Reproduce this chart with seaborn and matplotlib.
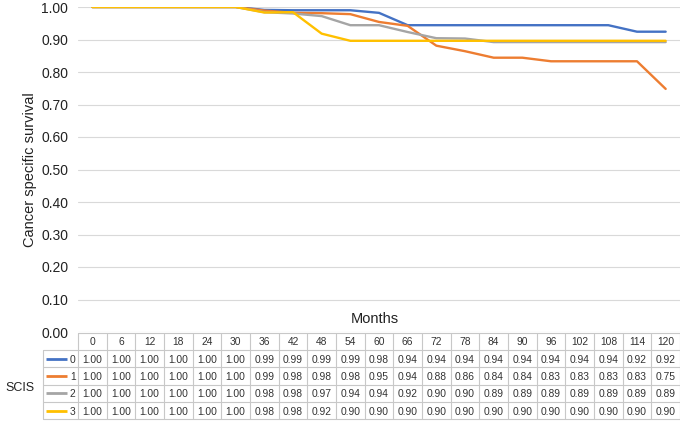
import numpy as np
import pandas as pd
import seaborn as sns
import matplotlib.pyplot as plt

# -----------------------------
# Data (read off the chart / data table)
# -----------------------------
MONTHS = [0, 6, 12, 18, 24, 30, 36, 42, 48, 54, 60, 66, 72, 78, 84, 90, 96, 102, 108, 114, 120]
SERIES = ["0", "1", "2", "3"]

scis_0 = [1.00, 1.00, 1.00, 1.00, 1.00, 1.00, 0.991, 0.990, 0.990, 0.990, 0.982, 0.944, 0.944, 0.944,
          0.944, 0.944, 0.944, 0.944, 0.944, 0.924, 0.924]
scis_1 = [1.00, 1.00, 1.00, 1.00, 1.00, 1.00, 0.989, 0.982, 0.981, 0.978, 0.954, 0.942, 0.881, 0.864,
          0.844, 0.844, 0.833, 0.833, 0.833, 0.833, 0.748]
scis_2 = [1.00, 1.00, 1.00, 1.00, 1.00, 1.00, 0.984, 0.980, 0.972, 0.944, 0.944, 0.923, 0.904, 0.903,
          0.892, 0.892, 0.892, 0.892, 0.892, 0.892, 0.892]
scis_3 = [1.00, 1.00, 1.00, 1.00, 1.00, 1.00, 0.983, 0.984, 0.918, 0.896, 0.896, 0.896, 0.896, 0.896,
          0.896, 0.896, 0.896, 0.896, 0.896, 0.896, 0.896]

VALUES = [scis_0, scis_1, scis_2, scis_3]
COLORS = ["#4472C4", "#ED7D31", "#A5A5A5", "#FFC000"]

# -----------------------------
# Style
# -----------------------------
sns.set_theme(style="white")
plt.rcParams["font.family"] = ["Liberation Sans", "DejaVu Sans"]

W, H = 680, 424
fig = plt.figure(figsize=(W / 100, H / 100), dpi=100)

# long-form frame for seaborn
pos = np.arange(len(MONTHS))
df = pd.DataFrame({
    "pos": np.tile(pos, len(SERIES)),
    "month": np.tile(MONTHS, len(SERIES)),
    "scis": np.repeat(SERIES, len(MONTHS)),
    "survival": np.concatenate(VALUES),
})

ax = fig.add_axes([78 / W, (H - 332) / H, 602 / W, 325 / H])
sns.lineplot(data=df, x="pos", y="survival", hue="scis", hue_order=SERIES,
             palette=COLORS, linewidth=1.7, legend=False, sort=False, ax=ax)
for ln in ax.lines:
    ln.set_solid_joinstyle("round")

ax.set_xlim(-0.5, len(MONTHS) - 0.5)
ax.set_ylim(0, 1.0)
ax.set_yticks(np.arange(0, 1.01, 0.1))
ax.set_yticklabels([f"{v:.2f}" for v in np.arange(0, 1.01, 0.1)], fontsize=10, color="#222222")
ax.set_xticks([])
ax.set_xlabel("")
ax.set_ylabel("Cancer specific survival", fontsize=10.5, color="#222222", labelpad=3)
ax.grid(axis="y", color="#d9d9d9", linewidth=0.8)
ax.set_axisbelow(True)
ax.tick_params(axis="y", length=0, pad=7)
for sp in ax.spines.values():
    sp.set_visible(False)

fig.text(375 / W, 1 - 319 / H, "Months", ha="center", va="center", fontsize=10.5, color="#222222")
fig.text(5 / W, 1 - 388 / H, "SCIS", ha="left", va="center", fontsize=9, color="#222222")

# -----------------------------
# Data table under the chart
# -----------------------------
tax = fig.add_axes([78 / W, (H - 419.3) / H, 602 / W, 86.6 / H])
n = len(MONTHS)
tax.set_xlim(-0.5, n - 0.5)
tax.set_ylim(len(SERIES) + 1, 0)
tax.axis("off")

border = "#c8c8c8"
leg_left = -1.73
right = n - 0.5
kw = dict(color=border, linewidth=0.8, clip_on=False)

# horizontal borders
tax.plot([-0.5, right], [0, 0], **kw)
for r in range(1, len(SERIES) + 2):
    tax.plot([leg_left, right], [r, r], **kw)
# vertical borders
tax.plot([leg_left, leg_left], [1, len(SERIES) + 1], **kw)
for c in range(n + 1):
    tax.plot([c - 0.5, c - 0.5], [0, len(SERIES) + 1], **kw)

txt = dict(ha="center", va="center", fontsize=7.4, color="#333333", clip_on=False)
for c, m in enumerate(MONTHS):
    tax.text(c, 0.55, str(m), **txt)

for r, (name, vals, col) in enumerate(zip(SERIES, VALUES, COLORS), start=1):
    tax.plot([-1.62, -0.88], [r + 0.5, r + 0.5], color=col, linewidth=2, clip_on=False,
             solid_capstyle="butt")
    tax.text(-0.58, r + 0.55, name, ha="right", va="center", fontsize=7.4, color="#333333",
             clip_on=False)
    for c, v in enumerate(vals):
        tax.text(c, r + 0.55, f"{v:.2f}", **txt)

fig.savefig("out.png", dpi=100)
